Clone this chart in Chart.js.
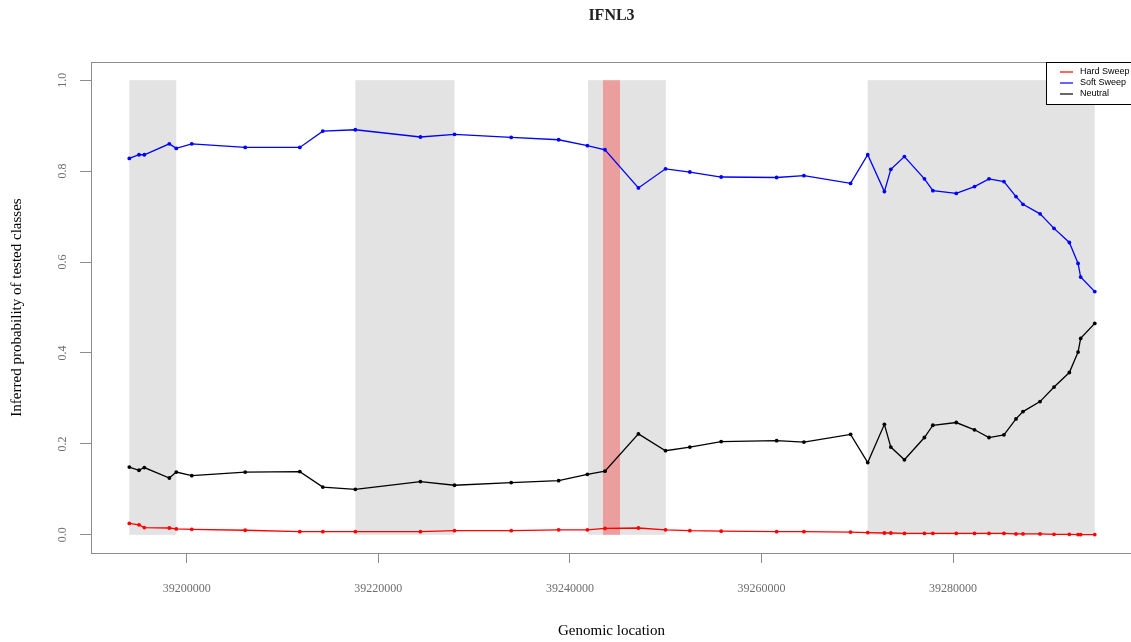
<!DOCTYPE html>
<html>
<head>
<meta charset="utf-8">
<title>IFNL3</title>
<script src="https://cdn.jsdelivr.net/npm/chart.js@4.4.1/dist/chart.umd.min.js"></script>
<style>
  html, body { margin: 0; padding: 0; background: #ffffff; overflow: hidden; }
  #wrap { width: 1140px; height: 642px; }
</style>
</head>
<body>
<div id="wrap"><canvas id="chart" width="1140" height="642"></canvas></div>
<script>
// Window positions along the chromosome
const positions = [
  39194000, 39195010, 39195570, 39198180, 39198900, 39200520, 39206100, 39211800,
  39214200, 39217600, 39224390, 39227950, 39233870, 39238820, 39241820, 39243660,
  39247150, 39249980, 39252520, 39255790, 39261580, 39264430, 39269300, 39271090,
  39272830, 39273500, 39274920, 39277010, 39277890, 39280330, 39282240, 39283750,
  39285310, 39286570, 39287300, 39289080, 39290540, 39292140, 39293050, 39293320,
  39294790
];

// Inferred class probabilities per window
const hardSweep = [
  0.025, 0.022, 0.016, 0.015, 0.013, 0.012, 0.010, 0.007,
  0.007, 0.007, 0.007, 0.009, 0.009, 0.011, 0.011, 0.014,
  0.015, 0.011, 0.009, 0.008, 0.007, 0.007, 0.006, 0.005,
  0.004, 0.004, 0.003, 0.003, 0.003, 0.003, 0.003, 0.003,
  0.003, 0.002, 0.002, 0.002, 0.001, 0.001, 0.0005, 0.0005,
  0.0005
];
const softSweep = [
  0.828, 0.836, 0.836, 0.860, 0.850, 0.860, 0.852, 0.852,
  0.888, 0.891, 0.875, 0.881, 0.874, 0.869, 0.856, 0.847,
  0.763, 0.805, 0.798, 0.787, 0.786, 0.790, 0.773, 0.836,
  0.755, 0.804, 0.832, 0.783, 0.757, 0.751, 0.766, 0.783,
  0.777, 0.744, 0.727, 0.706, 0.674, 0.643, 0.597, 0.567,
  0.535
];
const neutral = [
  0.149, 0.142, 0.148, 0.125, 0.138, 0.130, 0.138, 0.139,
  0.105, 0.100, 0.117, 0.109, 0.115, 0.119, 0.133, 0.140,
  0.222, 0.185, 0.193, 0.205, 0.207, 0.204, 0.221, 0.159,
  0.243, 0.193, 0.165, 0.214, 0.241, 0.247, 0.231, 0.214,
  0.220, 0.255, 0.271, 0.293, 0.325, 0.357, 0.402, 0.432,
  0.465
];

// Shaded regions (grey) and the highlighted gene interval (red)
const shadedStarts = [39194000, 39217600, 39241880, 39271090];
const shadedEnds   = [39198900, 39227950, 39250010, 39294790];
const geneStart = 39243450;
const geneEnd   = 39245230;

// Axis ticks
const xTicks = [39200000, 39220000, 39240000, 39260000, 39280000];
const yTicks = [0.0, 0.2, 0.4, 0.6, 0.8, 1.0];
const yTickLabels = ['0.0', '0.2', '0.4', '0.6', '0.8', '1.0'];

const seriesNames  = ['Hard Sweep', 'Soft Sweep', 'Neutral'];
const seriesColors = ['#ff0000', '#0000ff', '#000000'];

const SERIF = '"Liberation Serif", "DejaVu Serif", serif';
const SANS  = '"Liberation Sans", Arial, sans-serif';
const AXIS_GREY = '#8c8c8c';
const LABEL_GREY = '#6e6e6e';

function toPoints(values) {
  return positions.map((p, i) => ({ x: p, y: values[i] }));
}

const regionsPlugin = {
  id: 'regions',
  beforeDatasetsDraw(chart) {
    const { ctx, chartArea, scales: { x, y } } = chart;
    const top = y.getPixelForValue(1);
    const bottom = y.getPixelForValue(0);
    ctx.save();
    ctx.beginPath();
    ctx.rect(chartArea.left, chartArea.top, chartArea.right - chartArea.left, chartArea.bottom - chartArea.top);
    ctx.clip();
    ctx.fillStyle = '#e3e3e3';
    shadedStarts.forEach((s, i) => {
      const x0 = x.getPixelForValue(s);
      const x1 = x.getPixelForValue(shadedEnds[i]);
      ctx.fillRect(x0, top, x1 - x0, bottom - top);
    });
    ctx.fillStyle = 'rgba(255, 0, 0, 0.3)';
    const g0 = x.getPixelForValue(geneStart);
    const g1 = x.getPixelForValue(geneEnd);
    ctx.fillRect(g0, top, g1 - g0, bottom - top);
    ctx.restore();
  }
};

const framePlugin = {
  id: 'frame',
  afterDraw(chart) {
    const { ctx, chartArea, scales: { y } } = chart;
    ctx.save();
    // plot box
    ctx.strokeStyle = AXIS_GREY;
    ctx.lineWidth = 1;
    ctx.strokeRect(Math.round(chartArea.left) + 0.5, Math.round(chartArea.top) + 0.5,
      Math.round(chartArea.right - chartArea.left), Math.round(chartArea.bottom - chartArea.top));

    // rotated y tick labels
    ctx.fillStyle = LABEL_GREY;
    ctx.font = '12px ' + SERIF;
    ctx.textAlign = 'center';
    ctx.textBaseline = 'middle';
    yTicks.forEach((v, i) => {
      const py = y.getPixelForValue(v);
      ctx.save();
      ctx.translate(63, py);
      ctx.rotate(-Math.PI / 2);
      ctx.fillText(yTickLabels[i], 0, 0);
      ctx.restore();
    });

    // main title
    ctx.fillStyle = '#222222';
    ctx.font = 'bold 16px ' + SERIF;
    ctx.textAlign = 'center';
    ctx.textBaseline = 'middle';
    ctx.fillText('IFNL3', (chartArea.left + chartArea.right) / 2, 16);

    // legend
    const bx = 1046.5, by = Math.round(chartArea.top) + 0.5, bw = 120, bh = 42;
    ctx.fillStyle = '#ffffff';
    ctx.fillRect(bx, by, bw, bh);
    ctx.strokeStyle = '#000000';
    ctx.lineWidth = 1;
    ctx.strokeRect(bx, by, bw, bh);
    ctx.font = '9px ' + SANS;
    ctx.textAlign = 'left';
    ctx.textBaseline = 'middle';
    seriesNames.forEach((name, i) => {
      const ly = 72 + i * 11;
      ctx.strokeStyle = seriesColors[i];
      ctx.lineWidth = 1.2;
      ctx.beginPath();
      ctx.moveTo(1060, ly);
      ctx.lineTo(1073, ly);
      ctx.stroke();
      ctx.fillStyle = '#000000';
      ctx.fillText(name, 1080, ly);
    });
    ctx.restore();
  }
};

const datasetStyle = (color) => ({
  borderColor: color,
  backgroundColor: color,
  borderWidth: 1.3,
  pointRadius: 1.9,
  pointHoverRadius: 1.9,
  pointBorderWidth: 0,
  pointBackgroundColor: color,
  showLine: true,
  tension: 0,
  fill: false
});

new Chart(document.getElementById('chart'), {
  type: 'scatter',
  data: {
    datasets: [
      Object.assign({ label: seriesNames[0], data: toPoints(hardSweep) }, datasetStyle(seriesColors[0])),
      Object.assign({ label: seriesNames[1], data: toPoints(softSweep) }, datasetStyle(seriesColors[1])),
      Object.assign({ label: seriesNames[2], data: toPoints(neutral) }, datasetStyle(seriesColors[2]))
    ]
  },
  options: {
    responsive: false,
    animation: false,
    devicePixelRatio: 1,
    layout: { padding: { top: 62, right: 8, left: 0, bottom: 0 } },
    plugins: {
      legend: { display: false },
      title: { display: false },
      tooltip: { enabled: false }
    },
    scales: {
      x: {
        type: 'linear',
        min: 39190000,
        max: 39298680,
        afterBuildTicks(axis) { axis.ticks = xTicks.map(v => ({ value: v })); },
        afterFit(axis) { axis.height = 89; },
        border: { display: false },
        grid: { display: true, drawOnChartArea: false, drawTicks: true, tickLength: 10, color: AXIS_GREY, lineWidth: 1 },
        ticks: {
          autoSkip: false,
          maxRotation: 0,
          minRotation: 0,
          padding: 19,
          color: LABEL_GREY,
          font: { family: SERIF, size: 12 },
          callback: (v) => String(v)
        },
        title: {
          display: true,
          text: 'Genomic location',
          color: '#000000',
          font: { family: SERIF, size: 15 },
          padding: { top: 0, bottom: 2 }
        }
      },
      y: {
        type: 'linear',
        min: -0.04,
        max: 1.04,
        afterBuildTicks(axis) { axis.ticks = yTicks.map(v => ({ value: v })); },
        afterFit(axis) { axis.width = 91; },
        border: { display: false },
        grid: { display: true, drawOnChartArea: false, drawTicks: true, tickLength: 11, color: AXIS_GREY, lineWidth: 1 },
        ticks: { display: false },
        title: {
          display: true,
          text: 'Inferred probability of tested classes',
          color: '#000000',
          font: { family: SERIF, size: 15 },
          padding: { top: 8.5, bottom: 0 }
        }
      }
    }
  },
  plugins: [regionsPlugin, framePlugin]
});
</script>
</body>
</html>
